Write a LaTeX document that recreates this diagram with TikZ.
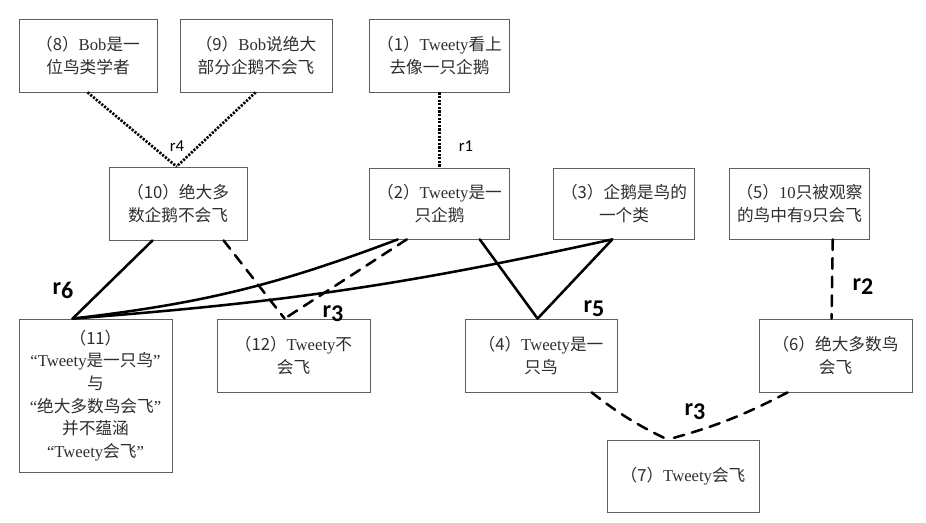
\documentclass[tikz,border=0pt]{standalone}
\usepackage{fontspec}
\setmainfont{Liberation Serif}
\newfontfamily\zh{Noto Sans CJK SC}
\newfontfamily\lbl{Carlito}
\usetikzlibrary{calc}
\definecolor{bx}{RGB}{95, 95, 95}
\definecolor{tx}{RGB}{45, 45, 45}
\newcommand{\la}[1]{{\rmfamily #1}}
\newcommand{\hr}[1]{r\raisebox{-0.35ex}{#1}}

\begin{document}
\begin{tikzpicture}[x=0.75pt, y=-0.75pt,
    box/.style={draw=bx, line width=0.6pt, inner sep=0pt, minimum width=105.5pt,
        minimum height=54.75pt, align=center, text=tx, font=\zh\fontsize{12.5}{17}\selectfont},
    dots/.style={line width=2pt, dash pattern=on 1.6pt off 1.1pt},
    hand/.style={line width=1.9pt, line cap=round, line join=round},
    handdash/.style={hand, dash pattern=on 8pt off 6pt},
    lab/.style={font=\lbl\fontsize{12.5}{14}\selectfont},
    scrib/.style={font=\lbl\bfseries\fontsize{18}{18}\selectfont}]
    \useasboundingbox (0,0) rectangle (926,522);

    % top row
    \node[box, minimum width=103.5pt] (b8) at (88,55.5) {（8）\la{Bob}是一\\位鸟类学者};
    \node[box, minimum width=114pt] (b9) at (256,55.5) {（9）\la{Bob}说绝大\\部分企鹅不会飞};
    \node[box] (b1) at (439.5,55.5) {（1）\la{Tweety}看上\\去像一只企鹅};
    % middle row
    \node[box, minimum width=103.5pt] (b10) at (178,203.5) {（10）绝大多\\数企鹅不会飞};
    \node[box, minimum height=53.25pt] (b2) at (439.5,203.5) {（2）\la{Tweety}是一\\只企鹅};
    \node[box, minimum height=53.25pt] (b3) at (624,203.5) {（3）企鹅是鸟的\\一个类};
    \node[box, minimum height=53.25pt] (b5) at (799.5,203.5) {（5）\la{10}只被观察\\的鸟中有\la{9}只会飞};
    % bottom row
    \node[box, minimum width=114.75pt, minimum height=114.75pt] (b11) at (95.5,395.5)
        {（11）\\\la{“Tweety}是一只鸟\la{”}\\与\\\la{“}绝大多数鸟会飞\la{”}\\并不蕴涵\\\la{“Tweety}会飞\la{”}};
    \node[box, minimum width=114.75pt] (b12) at (293.5,355.5) {（12）\la{Tweety}不\\会飞};
    \node[box, minimum width=114pt] (b4) at (541,355.5) {（4）\la{Tweety}是一\\只鸟};
    \node[box, minimum width=114.75pt] (b6) at (835.5,355.5) {（6）绝大多数鸟\\会飞};
    \node[box, minimum width=114pt, minimum height=54pt] (b7) at (683,476) {（7）\la{Tweety}会飞};

    \coordinate (m10) at ($(b10.north west)+(68,0)$);
    \coordinate (m11) at ($(b11.north west)+(54,0)$);
    \coordinate (m12) at ($(b12.north west)+(68,0)$);
    \coordinate (m4) at ($(b4.north west)+(73,0)$);
    \coordinate (m6) at ($(b6.north west)+(73,0)$);
    \coordinate (m7) at ($(b7.north west)+(61,0)$);

    \draw[dots] ($(b8.south west)+(69,0)$) -- (m10);
    \draw[dots] ($(b9.south west)+(76,0)$) -- (m10);
    \draw[dots] (b1.south) -- (b2.north);
    \node[lab] (r4) at (177,146) {r4};
    \node[lab] (r1) at (466,146) {r1};

    \draw[hand] ($(b10.south west)+(44,0)$) -- (m11);
    \draw[hand] (m11) to[bend right=7] ($(b2.south west)+(29,0)$);
    \draw[hand] (m11) to[bend right=4] ($(b3.south west)+(59,0)$);
    \draw[handdash] ($(b10.south west)+(115,0)$) -- (m12);
    \draw[handdash] ($(b2.south west)+(38,0)$) -- (m12);
    \draw[hand] ($(b2.south west)+(111,0)$) -- (m4) -- ($(b3.south west)+(59,0)$);
    \draw[handdash] ($(b5.south west)+(104,0)$) -- (m6);
    \draw[handdash] ($(b4.south west)+(127,0)$) to[bend right=6] (m7);
    \draw[handdash] ($(b6.south west)+(29,0)$) to[bend left=6] (m7);

    \node[scrib] (r6) at (63,290) {\hr{6}};
    \node[scrib] (r3a) at (333,314) {\hr{3}};
    \node[scrib] (r5) at (594,309) {\hr{5}};
    \node[scrib] (r2) at (863,287) {\hr{2}};
    \node[scrib] (r3b) at (695,412) {\hr{3}};
\end{tikzpicture}
\end{document}
